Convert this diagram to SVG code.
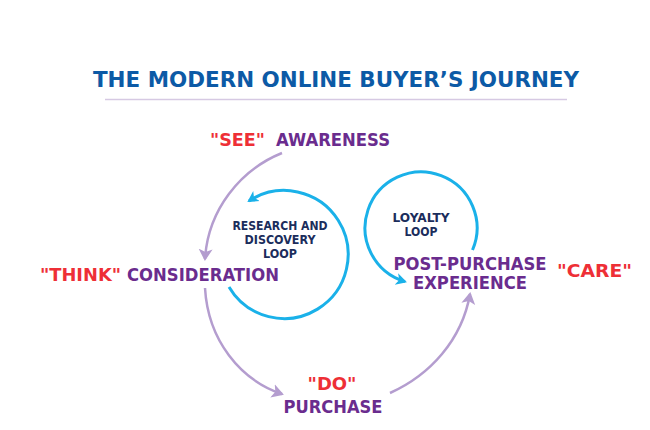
<svg xmlns="http://www.w3.org/2000/svg" width="650" height="430" viewBox="0 0 650 430">
<defs>
<style>
.t{font-family:"DejaVu Sans","Liberation Sans",sans-serif;font-weight:bold}
.title{fill:#0c5aa6;font-size:21px}
.red{fill:#ee2f36;font-size:18px}
.pur{fill:#6a2c8e;font-size:18px}
.navy{fill:#1b2d5c;font-size:11.5px}
.pa{fill:none;stroke:#b49dcf;stroke-width:2.5}
.ba{fill:none;stroke:#1ab1e9;stroke-width:3}
</style>
<marker id="mp" markerUnits="userSpaceOnUse" markerWidth="16" markerHeight="16" refX="10" refY="7" orient="auto" viewBox="0 0 16 14">
<path d="M0,0 L12,7 L0,14 L3,7 Z" fill="#b49dcf"/>
</marker>
<marker id="mb" markerUnits="userSpaceOnUse" markerWidth="14" markerHeight="14" refX="9" refY="6" orient="auto" viewBox="0 0 14 12">
<path d="M0,0 L11,6 L0,12 L3,6 Z" fill="#1ab1e9"/>
</marker>
</defs>
<rect width="650" height="430" fill="#fff"/>
<g id="title">
<text class="t title" x="336" y="87" text-anchor="middle" textLength="486" lengthAdjust="spacingAndGlyphs">THE MODERN ONLINE BUYER’S JOURNEY</text>
<line x1="105" y1="99.5" x2="567" y2="99.5" stroke="#d6c9e3" stroke-width="1.5"/>
</g>
<g id="connectors">
<path class="pa" d="M282,153 C240,170 208,210 205,259" marker-end="url(#mp)"/>
<path class="pa" d="M205,288 C208,340 240,380 282,394" marker-end="url(#mp)"/>
<path class="pa" d="M390,393 C430,375 462,340 470,294" marker-end="url(#mp)"/>
<path class="ba" d="M229,287 A64,64 0 1 0 249,201" marker-end="url(#mb)"/>
<path class="ba" d="M472.5,250 A56,56 0 1 0 405,281.6" marker-end="url(#mb)"/>
</g>
<g id="awareness">
<text class="t red" x="210" y="146" textLength="55" lengthAdjust="spacingAndGlyphs">"SEE"</text>
<text class="t pur" x="276" y="146" textLength="114" lengthAdjust="spacingAndGlyphs">AWARENESS</text>
</g>
<g id="research-loop">
<text class="t navy" text-anchor="middle" x="280" y="230" textLength="95" lengthAdjust="spacingAndGlyphs">RESEARCH AND</text>
<text class="t navy" text-anchor="middle" x="280" y="244" textLength="71" lengthAdjust="spacingAndGlyphs">DISCOVERY</text>
<text class="t navy" text-anchor="middle" x="280" y="258" textLength="34" lengthAdjust="spacingAndGlyphs">LOOP</text>
</g>
<g id="consideration">
<text class="t red" x="40" y="281" textLength="81" lengthAdjust="spacingAndGlyphs">"THINK"</text>
<text class="t pur" x="127" y="281" textLength="152" lengthAdjust="spacingAndGlyphs">CONSIDERATION</text>
</g>
<g id="purchase">
<text class="t red" x="332" y="390" text-anchor="middle" textLength="49" lengthAdjust="spacingAndGlyphs">"DO"</text>
<text class="t pur" x="333" y="413" text-anchor="middle" textLength="99" lengthAdjust="spacingAndGlyphs">PURCHASE</text>
</g>
<g id="loyalty-loop">
<text class="t navy" text-anchor="middle" x="421" y="222" textLength="57" lengthAdjust="spacingAndGlyphs">LOYALTY</text>
<text class="t navy" text-anchor="middle" x="421" y="236" textLength="33" lengthAdjust="spacingAndGlyphs">LOOP</text>
</g>
<g id="post-purchase">
<text class="t pur" x="470" y="270" text-anchor="middle" textLength="153" lengthAdjust="spacingAndGlyphs">POST-PURCHASE</text>
<text class="t pur" x="470" y="289" text-anchor="middle" textLength="114" lengthAdjust="spacingAndGlyphs">EXPERIENCE</text>
<text class="t red" x="557" y="277" textLength="75" lengthAdjust="spacingAndGlyphs">"CARE"</text>
</g>
</svg>
